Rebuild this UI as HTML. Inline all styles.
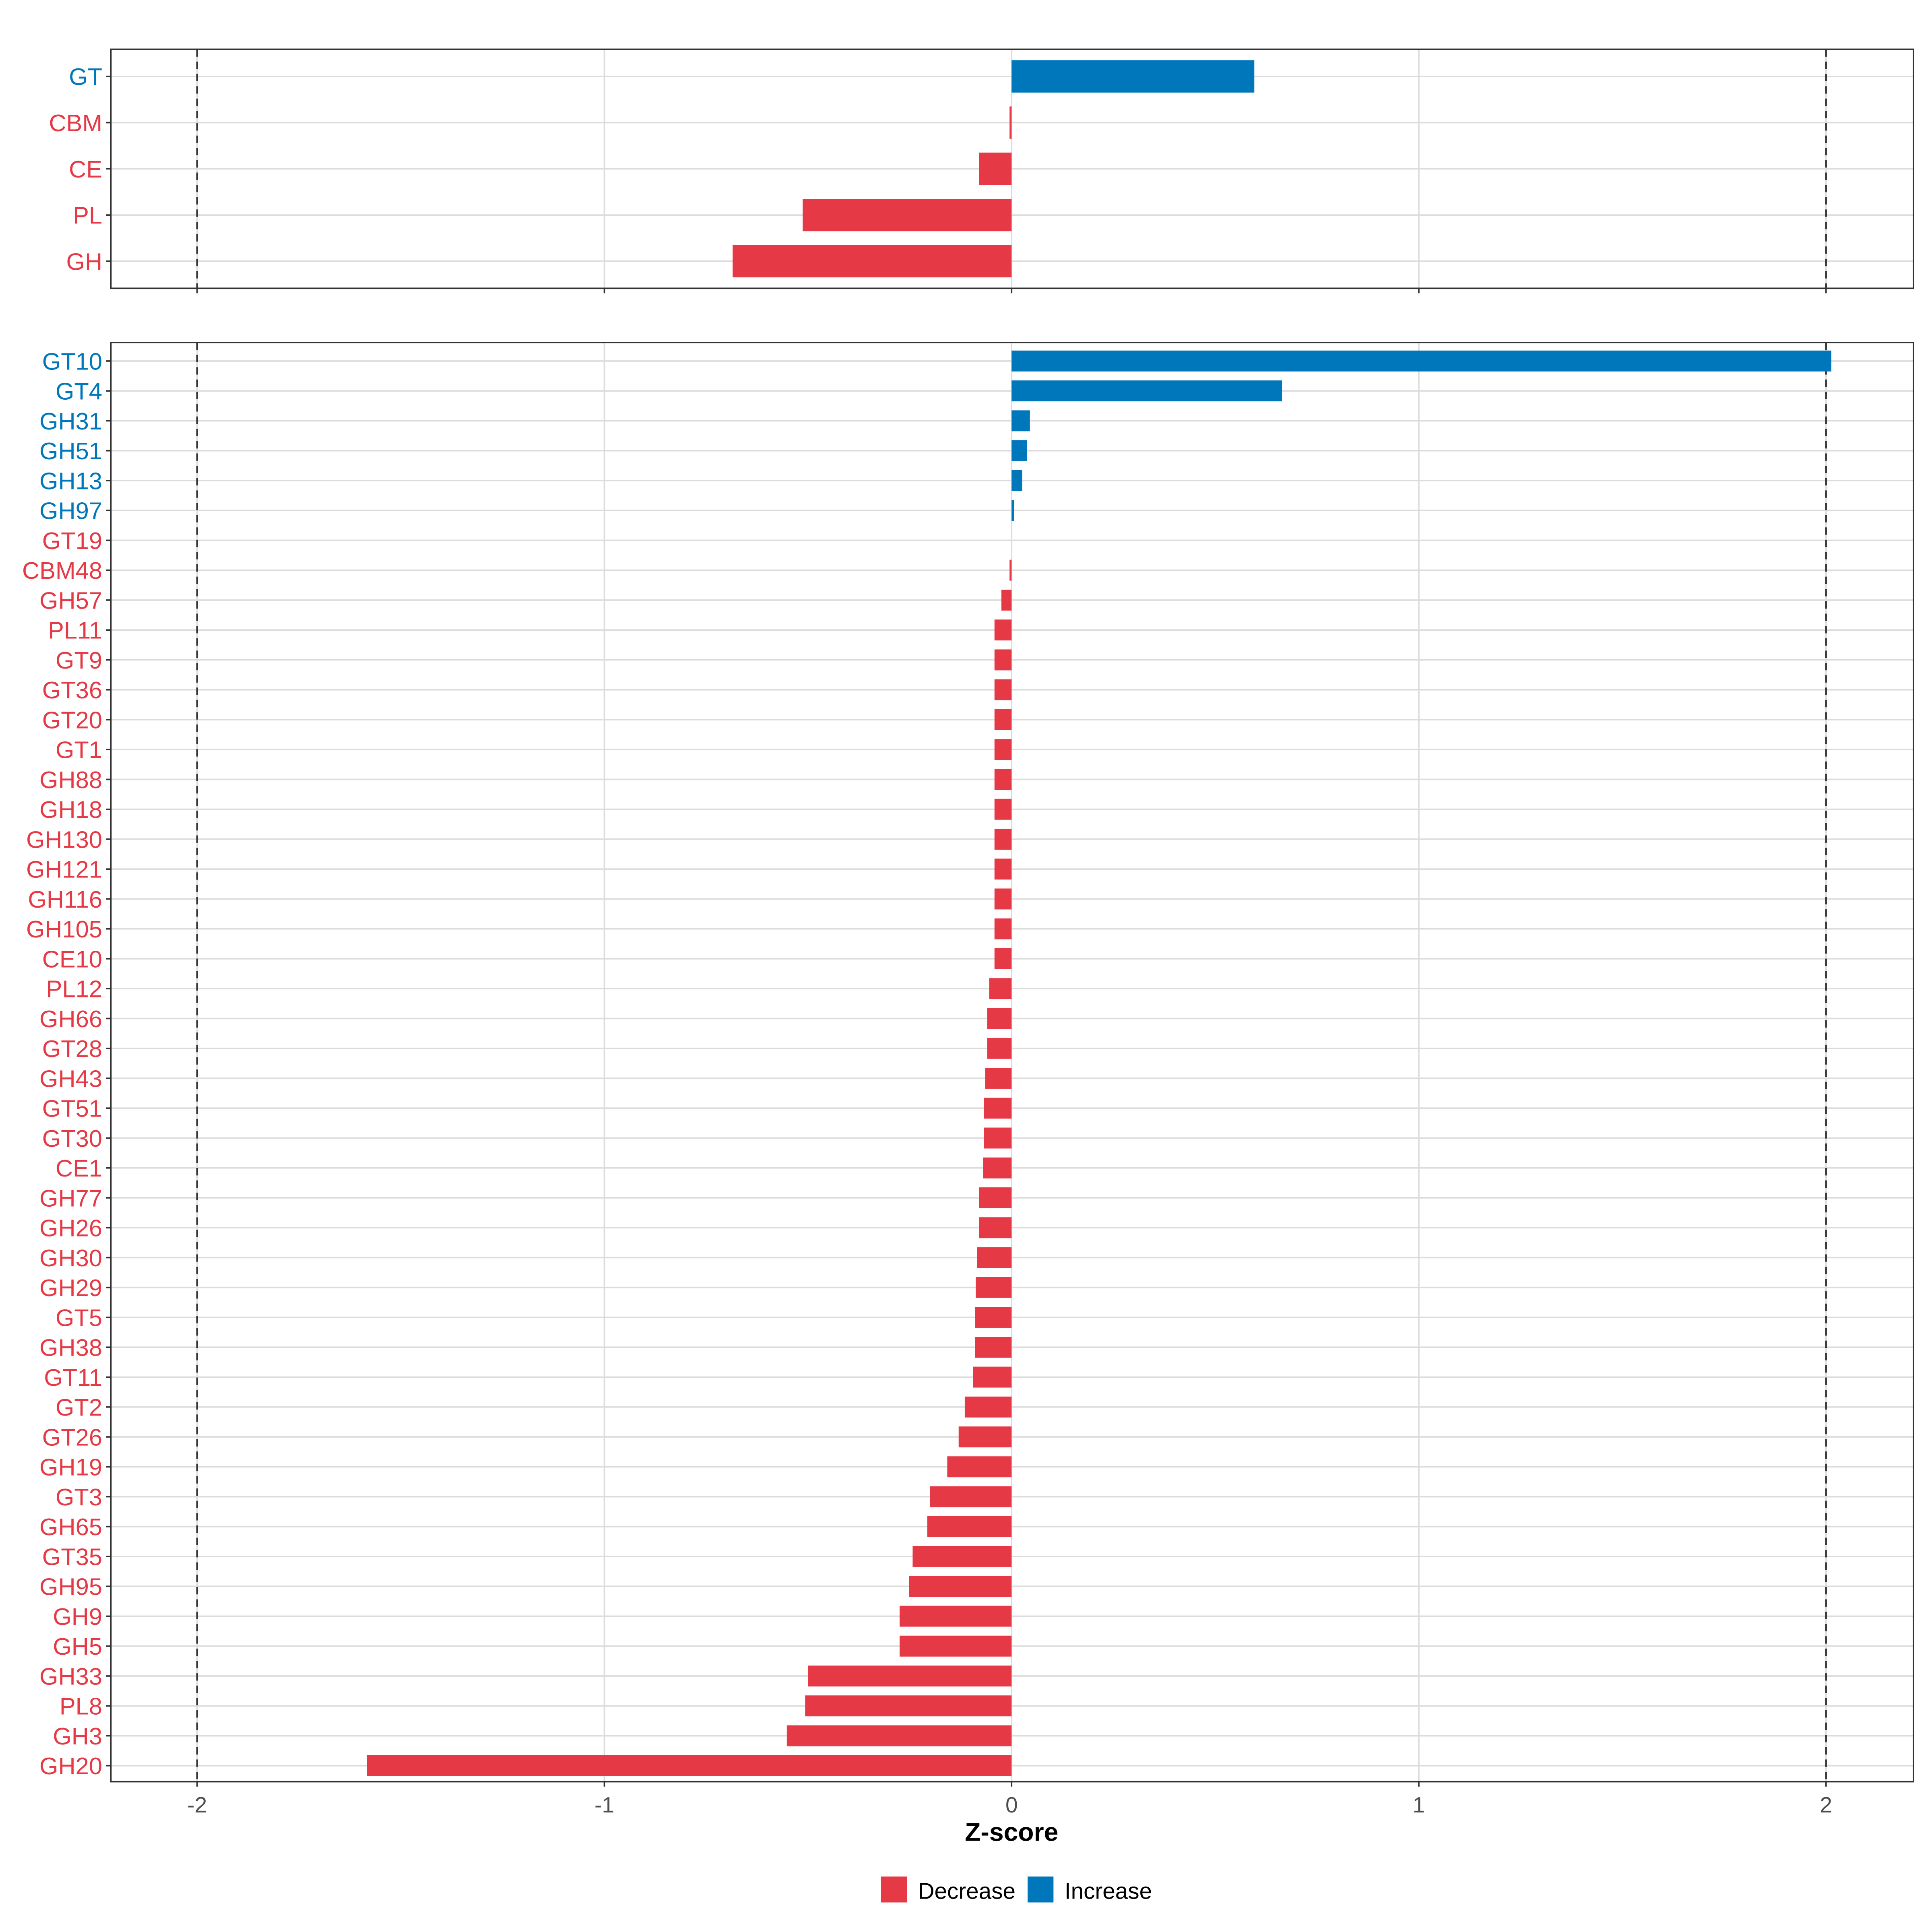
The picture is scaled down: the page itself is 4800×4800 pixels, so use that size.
<!DOCTYPE html>
<html><head><meta charset="utf-8"><style>
html,body{margin:0;padding:0;background:#fff}
svg{display:block}
text{font-family:"Liberation Sans",sans-serif}
</style></head><body>
<svg id="chart" width="4800" height="4800" viewBox="0 0 1568 1568" xmlns="http://www.w3.org/2000/svg">
<g id="top"></g>
<g id="bottom"></g>
<g id="xaxis"></g>
<text x="821" y="1494" text-anchor="middle" font-size="21" font-weight="bold">Z-score</text>
<g>
<rect x="715" y="1523" width="21" height="21" fill="#E63946"/>
<text x="745" y="1541" font-size="18.5">Decrease</text>
<rect x="834" y="1523" width="21" height="21" fill="#0077BB"/>
<text x="864" y="1541" font-size="18.5">Increase</text>
</g>
</svg>
<script>
const topCats=["GT","CBM","CE","PL","GH"];
const topVals=[0.596,-0.005,-0.08,-0.513,-0.685];
const botCats=["GT10","GT4","GH31","GH51","GH13","GH97","GT19","CBM48","GH57","PL11","GT9","GT36","GT20","GT1","GH88","GH18","GH130","GH121","GH116","GH105","CE10","PL12","GH66","GT28","GH43","GT51","GT30","CE1","GH77","GH26","GH30","GH29","GT5","GH38","GT11","GT2","GT26","GH19","GT3","GH65","GT35","GH95","GH9","GH5","GH33","PL8","GH3","GH20"];
const botVals=[2.013,0.664,0.045,0.038,0.026,0.006,0,-0.005,-0.025,-0.042,-0.042,-0.042,-0.042,-0.042,-0.042,-0.042,-0.042,-0.042,-0.042,-0.042,-0.042,-0.055,-0.06,-0.06,-0.065,-0.068,-0.068,-0.07,-0.08,-0.08,-0.085,-0.088,-0.09,-0.09,-0.095,-0.115,-0.13,-0.158,-0.2,-0.207,-0.243,-0.252,-0.275,-0.275,-0.5,-0.507,-0.552,-1.583];
const xTicks=[-2,-1,0,1,2];
const NS="http://www.w3.org/2000/svg";
const X0=90,X1=1553;
function xs(v){return 821+v*330.5;}
function mk(tag,attrs,parent){const e=document.createElementNS(NS,tag);for(const k in attrs)e.setAttribute(k,attrs[k]);parent.appendChild(e);return e;}
function panel(g,cats,vals,y0,y1,firstY,step,prefix){
  mk('rect',{x:X0,y:y0,width:X1-X0,height:y1-y0,fill:'#fff'},g);
  xTicks.forEach(t=>{const l=mk('line',{x1:xs(t),x2:xs(t),y1:y0,y2:y1,stroke:'#dcdcdc','stroke-width':1.2},g);
    
    });
  cats.forEach((c,i)=>{const y=firstY+i*step;
    const gl=mk('line',{x1:X0,x2:X1,y1:y,y2:y,stroke:'#dcdcdc','stroke-width':1.2},g);
    
    });
  [-2,2].forEach(t=>{const d=mk('line',{x1:xs(t),x2:xs(t),y1:y0,y2:y1,stroke:'#333','stroke-width':1.4,'stroke-dasharray':'6,4'},g);
    
    });
  const bh=step*0.7;
  cats.forEach((c,i)=>{const y=firstY+i*step,v=vals[i];
    const col=v>0?'#0077BB':'#E63946';
    if(v!==0){const a=Math.min(xs(0),xs(v)),w=Math.max(Math.abs(xs(v)-xs(0)),1);
      const r=mk('rect',{x:a,y:y-bh/2,width:w,height:bh,fill:col},g);
      
      }
    const t=mk('text',{x:X0-7,y:y+7,'text-anchor':'end','font-size':19.5,fill:col},g);
    t.textContent=c;
    
    
    mk('line',{x1:X0-4,x2:X0,y1:y,y2:y,stroke:'#333','stroke-width':1.2},g);
  });
  xTicks.forEach(t=>mk('line',{x1:xs(t),x2:xs(t),y1:y1,y2:y1+4,stroke:'#333','stroke-width':1.2},g));
  mk('rect',{x:X0,y:y0,width:X1-X0,height:y1-y0,fill:'none',stroke:'#333','stroke-width':1.2},g);
}
panel(document.getElementById('top'),topCats,topVals,40,234,62,37.5,'top-');
panel(document.getElementById('bottom'),botCats,botVals,278,1446,293,(1433-293)/47,'');
const xa=document.getElementById('xaxis');
xTicks.forEach(t=>{const e=mk('text',{x:xs(t),y:1471,'text-anchor':'middle','font-size':18,fill:'#4d4d4d'},xa);
  e.textContent=String(t);
  
  });
</script>
</body></html>
